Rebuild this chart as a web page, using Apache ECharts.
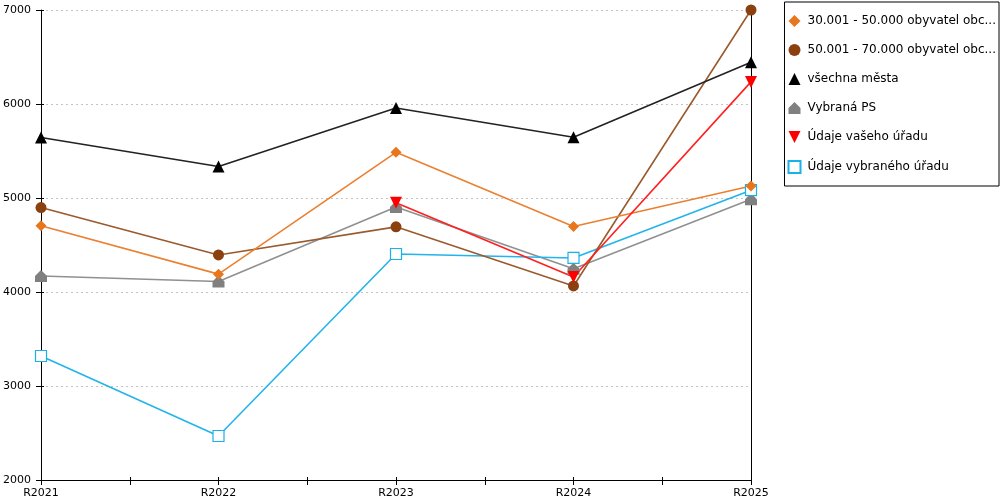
<!DOCTYPE html>
<html><head><meta charset="utf-8">
<script src="https://cdn.jsdelivr.net/npm/echarts@6/dist/echarts.min.js"></script>
<style>html,body{margin:0;padding:0;background:#fff}#c{width:1000px;height:500px}</style>
</head><body><div id="c"></div>
<script>
var categories = ['R2021','R2022','R2023','R2024','R2025'];
var tickSlots = ['','','','','','','','',''];
var s30_50 = [4705, 4190, 5486, 4697, 5128];
var s50_70 = [4898, 4394, 4693, 4064, 7000];
var vsechna = [5643, 5335, 5958, 5646, 6445];
var vybranaPS = [4170, 4112, 4904, 4248, 4987];
var vasUrad = [null, null, 4950, 4160, 6235];
var vybranyUrad = [3319, 2468, 4404, 4362, 5083];
var names = ['30.001 - 50.000 obyvatel obc...', '50.001 - 70.000 obyvatel obc...', 'všechna města', 'Vybraná PS', 'Údaje vašeho úřadu', 'Údaje vybraného úřadu'];
var yMin = 2000, yMax = 7000, yStep = 1000;

var house = 'path://M0,5 L5,0 L10,5 L10,10 L0,10 Z';
var downTri = 'path://M0,0 L10,0 L5,10 Z';
var font = 'DejaVu Sans';
function ser(name, data, color, lineColor, symbol, size, extra) {
  var o = {
    name: name, type: 'line', data: data, xAxisIndex: 0, yAxisIndex: 0,
    symbol: symbol, symbolSize: size, showAllSymbol: true,
    lineStyle: { color: lineColor, width: 1.6 },
    itemStyle: { color: color },
    connectNulls: false, animation: false, z: 3
  };
  if (extra) for (var k in extra) o[k] = extra[k];
  return o;
}
var chart = echarts.init(document.getElementById('c'));
chart.setOption({
  animation: false,
  textStyle: { fontFamily: font },
  grid: { left: 41, right: 249, top: 10, bottom: 20, containLabel: false },
  legend: {
    orient: 'vertical', right: 1, top: 2,
    padding: [13, 3, 12, 3],
    borderColor: '#000', borderWidth: 1, borderRadius: 0,
    itemGap: 17, itemWidth: 12, itemHeight: 12,
    textStyle: { fontFamily: font, fontSize: 12, color: '#000', padding: [0, 0, 0, 2] },
    data: [
      { name: names[0], icon: 'diamond' },
      { name: names[1], icon: 'circle' },
      { name: names[2], icon: 'triangle' },
      { name: names[3], icon: house },
      { name: names[4], icon: downTri },
      { name: names[5], icon: 'rect' }
    ]
  },
  xAxis: [
    { type: 'category', data: categories, boundaryGap: false,
      axisLine: { lineStyle: { color: '#000', width: 1 } },
      axisTick: { show: false },
      axisLabel: { color: '#000', fontSize: 11, fontFamily: font, margin: 8 },
      splitLine: { show: false } },
    { type: 'category', data: tickSlots, boundaryGap: false, position: 'bottom',
      axisLine: { show: false }, axisLabel: { show: false },
      axisTick: { show: true, interval: 0, length: 5, lineStyle: { color: '#000' } } },
    { type: 'category', data: tickSlots, boundaryGap: false, position: 'bottom',
      axisLine: { show: false }, axisLabel: { show: false },
      axisTick: { show: true, interval: 0, inside: true, length: 3, lineStyle: { color: '#000' } } }
  ],
  yAxis: [
    { type: 'value', min: yMin, max: yMax, interval: yStep,
      axisLine: { show: true, lineStyle: { color: '#000' } },
      axisTick: { show: true, length: 5, lineStyle: { color: '#000' } },
      axisLabel: { color: '#000', fontSize: 11, fontFamily: font, margin: 10,
        formatter: function (v) { return String(v); } },
      splitLine: { show: true, lineStyle: { color: '#c4c4c4', type: [2, 3], width: 1 } } },
    { type: 'value', min: yMin, max: yMax, interval: yStep, position: 'right',
      axisLine: { show: true, lineStyle: { color: '#000' } },
      axisTick: { show: false }, axisLabel: { show: false }, splitLine: { show: false } },
    { type: 'value', min: yMin, max: yMax, interval: yStep, position: 'left',
      axisLine: { show: false }, axisLabel: { show: false }, splitLine: { show: false },
      axisTick: { show: true, inside: true, length: 3, lineStyle: { color: '#000' } } }
  ],
  series: [
    ser(names[3], vybranaPS, '#808080', '#909090', house, 12),
    ser(names[5], vybranyUrad, '#1ab0e8', '#22b4ea', 'rect', 11, { itemStyle: { color: '#fff', borderColor: '#1ab0e8', borderWidth: 1.2 } }),
    ser(names[1], s50_70, '#8b4010', '#9a5a2c', 'circle', 11),
    ser(names[0], s30_50, '#e8761c', '#ea8030', 'diamond', 11),
    ser(names[4], vasUrad, '#ff0000', '#ff2020', downTri, 12),
    ser(names[2], vsechna, '#000000', '#222222', 'triangle', 12)
  ]
});
</script></body></html>
